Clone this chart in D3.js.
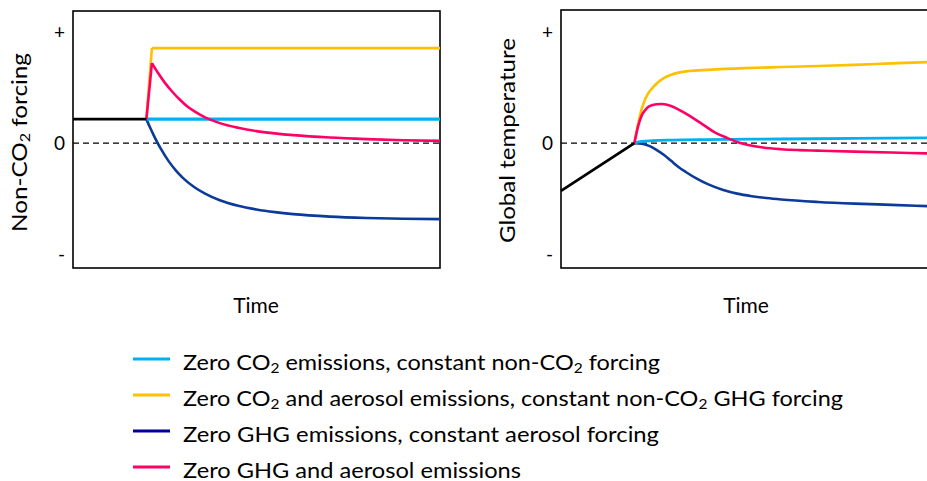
<!DOCTYPE html>
<html>
<head>
<meta charset="utf-8">
<script src="https://cdn.jsdelivr.net/npm/d3@7"></script>
<style>
  html, body { margin: 0; padding: 0; background: #fff; }
  svg { display: block; }
</style>
</head>
<body>
<svg id="chart" width="927" height="481"></svg>
<script>
// ---------------- DATA ----------------
const tickValues = [-1, 0, 1];
const tickLabels = ["-", "0", "+"];
const panelTitles = ["Non-CO₂ forcing", "Global temperature"];
const xTitle = "Time";

const seriesNames = [
  "Zero CO₂ emissions, constant non-CO₂ forcing",
  "Zero CO₂ and aerosol emissions, constant non-CO₂ GHG forcing",
  "Zero GHG emissions, constant aerosol forcing",
  "Zero GHG and aerosol emissions"
];
const seriesColors = ["#00B0F0", "#FFC000", "#0B3A9A", "#FF0066"];
const legendColors = ["#00B0F0", "#FFC000", "#000099", "#FF0066"];

// Left panel: non-CO2 forcing
const forcingHistT = [0, 20];
const forcingHistV = [0.216, 0.216];
const forcingBlueT = [20, 100];
const forcingBlueV = [0.216, 0.216];
const forcingYellowT = [20, 21.5, 100];
const forcingYellowV = [0.216, 0.856, 0.856];
const forcingNavyT = [20, 21, 22, 23, 24, 26, 28, 30, 33, 36, 40, 45, 50, 55, 60, 70, 80, 90, 100];
const forcingNavyV = [0.216, 0.14, 0.07, 0.005, -0.055, -0.16, -0.245, -0.315, -0.395, -0.455, -0.515, -0.565, -0.598, -0.622, -0.64, -0.662, -0.674, -0.681, -0.685];
const forcingPinkT = [20, 21.5, 23, 25, 27, 29, 31, 33, 36, 40, 45, 50, 55, 60, 70, 80, 90, 100];
const forcingPinkV = [0.216, 0.72, 0.64, 0.545, 0.465, 0.395, 0.335, 0.288, 0.232, 0.18, 0.138, 0.108, 0.088, 0.072, 0.05, 0.036, 0.026, 0.02];

// Right panel: global temperature
const tempHistT = [0, 20];
const tempHistV = [-0.43, 0];
const tempBlueT = [20, 22, 25, 30, 40, 60, 80, 100];
const tempBlueV = [0, 0.015, 0.022, 0.027, 0.032, 0.037, 0.042, 0.048];
const tempYellowT = [20, 21, 22, 23, 24, 25, 26, 28, 30, 32, 35, 40, 50, 60, 70, 80, 90, 100];
const tempYellowV = [0, 0.17, 0.31, 0.40, 0.46, 0.50, 0.535, 0.585, 0.615, 0.635, 0.65, 0.66, 0.675, 0.685, 0.695, 0.705, 0.718, 0.73];
const tempNavyT = [20, 22, 24, 26, 28, 30, 32, 34, 37, 40, 44, 48, 52, 56, 60, 70, 80, 90, 100];
const tempNavyV = [0, -0.005, -0.025, -0.06, -0.105, -0.16, -0.215, -0.26, -0.32, -0.37, -0.42, -0.455, -0.478, -0.495, -0.508, -0.53, -0.545, -0.556, -0.568];
const tempPinkT = [20, 21, 22, 23, 24, 26, 27.5, 30, 33, 36, 39, 42, 45, 48, 51, 55, 60, 65, 70, 80, 90, 100];
const tempPinkV = [0, 0.15, 0.25, 0.30, 0.33, 0.35, 0.352, 0.335, 0.285, 0.225, 0.16, 0.095, 0.05, 0.01, -0.017, -0.04, -0.055, -0.063, -0.068, -0.077, -0.085, -0.093];

// ---------------- DRAW ----------------
const FONT = "Lato, 'Open Sans', sans-serif";
const svg = d3.select("#chart");

const zip = (t, v) => t.map((d, i) => [d, v[i]]);

function richText(sel, str, size) {
  const parts = str.split("₂");
  const shift = size * 0.16;
  parts.forEach((p, i) => {
    if (i > 0) {
      sel.append("tspan").attr("font-size", size * 0.66).attr("dy", shift).text("2");
      sel.append("tspan").attr("dy", -shift).text(p);
    } else {
      sel.append("tspan").text(p);
    }
  });
}
function fitWidth(sel, target) {
  sel.attr("textLength", target).attr("lengthAdjust", "spacingAndGlyphs");
}

const panels = [
  {
    x0: 73, x1: 440, top: 11, bottom: 268, titleX: 27, titleY: 142.5, titleLen: 179, timeX: 256,
    hist: zip(forcingHistT, forcingHistV),
    series: [
      { pts: zip(forcingNavyT, forcingNavyV), color: seriesColors[2], w: 2.6, kink: null },
      { pts: zip(forcingBlueT, forcingBlueV), color: seriesColors[0], w: 3.2, kink: null },
      { pts: zip(forcingYellowT, forcingYellowV), color: seriesColors[1], w: 2.6, kink: 1 },
      { pts: zip(forcingPinkT, forcingPinkV), color: seriesColors[3], w: 2.6, kink: 1 }
    ]
  },
  {
    x0: 561, x1: 928, top: 10, bottom: 268, titleX: 515, titleY: 140.5, titleLen: 205, timeX: 746,
    hist: zip(tempHistT, tempHistV),
    series: [
      { pts: zip(tempNavyT, tempNavyV), color: seriesColors[2], w: 2.6, kink: null },
      { pts: zip(tempBlueT, tempBlueV), color: seriesColors[0], w: 2.8, kink: null },
      { pts: zip(tempYellowT, tempYellowV), color: seriesColors[1], w: 2.6, kink: null },
      { pts: zip(tempPinkT, tempPinkV), color: seriesColors[3], w: 2.6, kink: null }
    ]
  }
];

panels.forEach((p, pi) => {
  const x = d3.scaleLinear().domain([0, 100]).range([p.x0, p.x1]);
  const y = d3.scaleLinear().domain([-1.125, 1.19]).range([268, 11]);
  const g = svg.append("g");

  // frame
  g.append("rect")
    .attr("x", p.x0).attr("y", p.top)
    .attr("width", p.x1 - p.x0).attr("height", p.bottom - p.top)
    .attr("fill", "none").attr("stroke", "#000").attr("stroke-width", 1.6);

  // zero dashed line
  g.append("line")
    .attr("x1", x(0)).attr("x2", x(100))
    .attr("y1", y(0)).attr("y2", y(0))
    .attr("stroke", "#000").attr("stroke-width", 1.4)
    .attr("stroke-dasharray", "6,4");

  // y axis labels
  const axis = d3.axisLeft(y)
    .tickValues(tickValues)
    .tickFormat(d => tickLabels[tickValues.indexOf(d)])
    .tickSize(0).tickPadding(8);
  const ag = g.append("g").attr("transform", `translate(${p.x0},0)`).call(axis);
  ag.select(".domain").remove();
  ag.selectAll("text").attr("font-family", FONT).attr("font-size", 19).attr("fill", "#000");

  const line = d3.line().x(d => x(d[0])).y(d => y(d[1])).curve(d3.curveMonotoneX);
  const straight = d3.line().x(d => x(d[0])).y(d => y(d[1]));

  // series
  p.series.forEach(s => {
    const segs = s.kink == null ? [s.pts] : [s.pts.slice(0, s.kink + 1), s.pts.slice(s.kink)];
    segs.forEach((seg, si) => {
      g.append("path")
        .attr("d", (s.kink != null && si === 0) ? straight(seg) : line(seg))
        .attr("fill", "none").attr("stroke", s.color)
        .attr("stroke-width", s.w).attr("stroke-linejoin", "round");
    });
  });

  // historical
  g.append("path").attr("d", straight(p.hist))
    .attr("fill", "none").attr("stroke", "#000").attr("stroke-width", 2.8)
    .attr("stroke-linecap", "butt");

  // titles
  const t = g.append("text")
    .attr("transform", `translate(${p.titleX},${p.titleY}) rotate(-90)`)
    .attr("text-anchor", "middle")
    .attr("font-family", FONT).attr("font-size", 21).attr("fill", "#000");
  richText(t, panelTitles[pi], 21);
  fitWidth(t, p.titleLen);

  g.append("text")
    .attr("x", p.timeX).attr("y", 313)
    .attr("text-anchor", "middle")
    .attr("font-family", FONT).attr("font-size", 21).attr("fill", "#000")
    .text(xTitle);
});

// legend
const legendY = [359, 395, 431, 467];
const legendLen = [477, 660, 476, 338];
const lg = svg.append("g");
seriesNames.forEach((name, i) => {
  lg.append("line")
    .attr("x1", 133).attr("x2", 170)
    .attr("y1", legendY[i]).attr("y2", legendY[i])
    .attr("stroke", legendColors[i]).attr("stroke-width", 3);
  const t = lg.append("text")
    .attr("x", 183).attr("y", legendY[i] + 11)
    .attr("font-family", FONT).attr("font-size", 21).attr("fill", "#000");
  richText(t, name, 21);
  fitWidth(t, legendLen[i]);
});
</script>
</body>
</html>
